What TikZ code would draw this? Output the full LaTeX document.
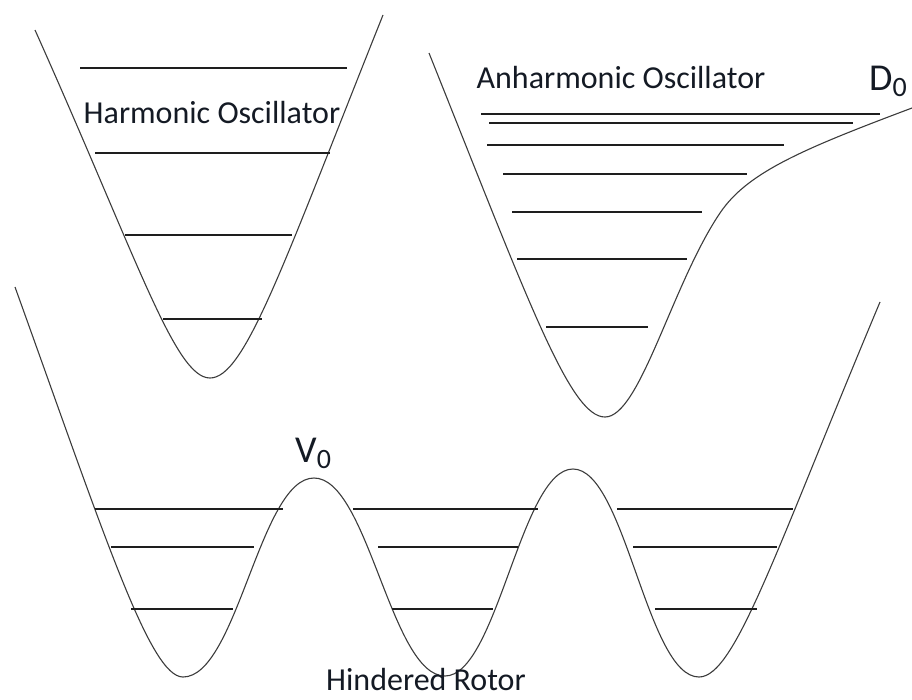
\documentclass[tikz,border=0pt]{standalone}
\usepackage{fontspec}
\setmainfont{Carlito}
\usepackage{tikz}
\definecolor{potline}{HTML}{3C3C3C}
\definecolor{levelline}{HTML}{1E1E1E}
\definecolor{labeltext}{HTML}{141A24}
\tikzset{
  potential/.style={
    draw=potline,
    line width=1.1pt,
    line join=round
  },
  elevel/.style={
    draw=levelline,
    line width=1.8pt
  },
  wellname/.style={
    font=\fontsize{32}{38}\selectfont,
    text=labeltext,
    anchor=base,
    inner sep=0pt
  },
  depth/.style={
    font=\fontsize{38}{44}\selectfont,
    text=labeltext,
    anchor=base west,
    inner sep=0pt
  }
}
\newcommand{\subzero}{\raisebox{-6pt}{\fontsize{28}{30}\selectfont 0}}

\begin{document}
\begin{tikzpicture}[x=1pt, y=-1pt]
  \useasboundingbox (0,0) rectangle (912,699);

  \draw[potential] (35,30) .. controls (138,260) and (175,378) .. (210,378)
    .. controls (245,378) and (283,265) .. (383,15);
  \draw[elevel] (80,68) -- (347,68);
  \draw[elevel] (95,153) -- (330,153);
  \draw[elevel] (125,235) -- (292,235);
  \draw[elevel] (163,319) -- (262,319);
  \node[wellname] (harmonic) at (212,123) {Harmonic Oscillator};

  \draw[potential] (429,53) .. controls (529,303) and (570,417) .. (605,417)
    .. controls (640,417) and (672,284) .. (720,213)
    .. controls (747,173) and (800,150) .. (912,108);
  \draw[elevel] (481,114) -- (880,114);
  \draw[elevel] (489,123) -- (853,123);
  \draw[elevel] (487,145) -- (784,145);
  \draw[elevel] (503,174) -- (747,174);
  \draw[elevel] (512,212) -- (702,212);
  \draw[elevel] (517,259) -- (687,259);
  \draw[elevel] (546,327) -- (648,327);
  \node[wellname] (anharmonic) at (621,88) {Anharmonic Oscillator};
  \node[depth] (dissoc) at (869,90) {D\subzero};

  \draw[potential] (15,287) .. controls (105,537) and (150,677) .. (183,677)
    .. controls (237,677) and (260,478) .. (314,478)
    .. controls (368,478) and (391,676) .. (445,676)
    .. controls (497,676) and (521,469) .. (573,469)
    .. controls (625,469) and (647,677) .. (699,677)
    .. controls (735,677) and (775,552) .. (880,302);
  \draw[elevel] (95,509) -- (283,509);
  \draw[elevel] (111,547) -- (254,547);
  \draw[elevel] (131,609) -- (233,609);
  \draw[elevel] (353,509) -- (538,509);
  \draw[elevel] (378,547) -- (518,547);
  \draw[elevel] (392,609) -- (493,609);
  \draw[elevel] (617,509) -- (793,509);
  \draw[elevel] (633,547) -- (777,547);
  \draw[elevel] (655,609) -- (757,609);
  \node[depth] (barrier) at (295,462) {V\subzero};
  \node[wellname] (rotor) at (426,690) {Hindered Rotor};
\end{tikzpicture}
\end{document}
